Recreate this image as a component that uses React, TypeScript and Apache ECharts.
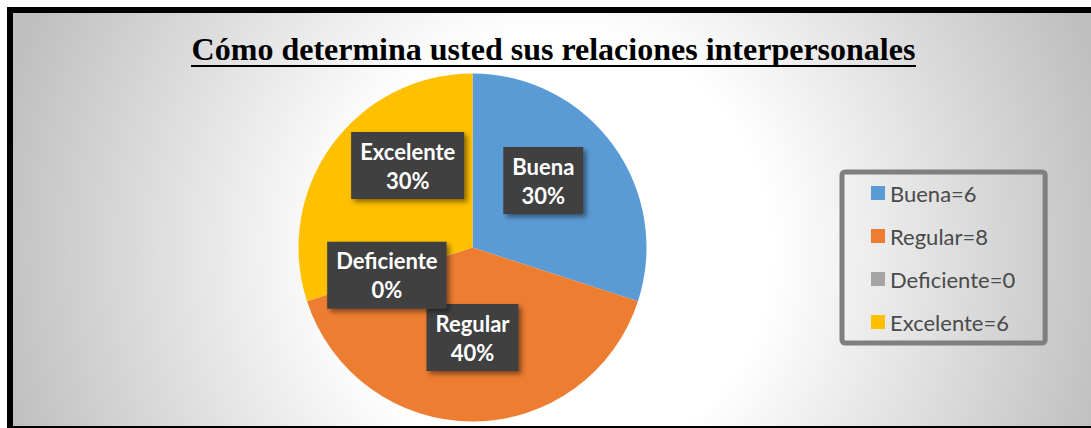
import React, { useEffect, useRef } from "react";
import * as echarts from "echarts";

const titleText = "Cómo determina usted sus relaciones interpersonales";
const categories = ["Buena", "Regular", "Deficiente", "Excelente"];
const counts = [6, 8, 0, 6];
const sliceColors = ["#5b9bd5", "#ed7d31", "#a5a5a5", "#ffc000"];
// label nudges (px) relative to ECharts' default inside position
const labelOffsets = [[-2, -14], [0, 0], [0, 0], [8, -29]];

export default function App() {
  const ref = useRef<HTMLDivElement>(null);
  useEffect(() => {
    if (!ref.current) return;
    const chart = echarts.init(ref.current, null, { renderer: "svg" });
    const total = counts.reduce((a, b) => a + b, 0);
    chart.setOption({
      animation: false,
      graphic: [
        {
          type: "rect",
          z: -10,
          silent: true,
          shape: { x: 10, y: 10, width: 1110, height: 419 },
          style: {
            fill: {
              type: "radial",
              global: true,
              x: 555,
              y: 250,
              r: 570,
              colorStops: [
                { offset: 0, color: "#ffffff" },
                { offset: 0.38, color: "#ffffff" },
                { offset: 1, color: "#bfbfbf" },
              ],
            },
            stroke: "#000",
            lineWidth: 6,
          },
        },
        {
          type: "text",
          x: 553.5,
          y: 49,
          silent: true,
          style: {
            text: titleText,
            fill: "#000",
            font: "bold 32px 'Liberation Serif', 'Times New Roman', serif",
            textAlign: "center",
            textVerticalAlign: "middle",
          },
        },
        {
          type: "line",
          silent: true,
          shape: { x1: 191, y1: 66, x2: 916, y2: 66 },
          style: { stroke: "#000", lineWidth: 2 },
        },
      ],
      legend: {
        orient: "vertical",
        left: 842,
        top: 172,
        padding: [10, 30, 10, 29],
        itemGap: 21,
        itemWidth: 14,
        itemHeight: 14,
        icon: "rect",
        borderColor: "#7f7f7f",
        borderWidth: 5,
        borderRadius: 3,
        data: categories,
        formatter: (name: string) => `${name}=${counts[categories.indexOf(name)]}`,
        textStyle: {
          fontFamily: "Lato",
          fontSize: 22,
          lineHeight: 22,
          color: "#4a4a4a",
        },
        selectedMode: false,
      },
      series: [
        {
          type: "pie",
          center: [472.5, 247.5],
          radius: 174,
          startAngle: 90,
          clockwise: true,
          minShowLabelAngle: -1,
          avoidLabelOverlap: false,
          labelLayout: { hideOverlap: false },
          silent: true,
          emphasis: { disabled: true },
          itemStyle: { borderWidth: 0 },
          label: {
            show: true,
            position: "inside",
            rotate: 0,
            color: "#ffffff",
            fontFamily: "Lato",
            fontWeight: "bold",
            fontSize: 22,
            lineHeight: 29,
            align: "center",
            backgroundColor: "#404040",
            padding: [5, 9, 4, 9],
            shadowColor: "rgba(0,0,0,0.45)",
            shadowBlur: 5,
            shadowOffsetX: 3,
            shadowOffsetY: 3,
            formatter: (p: any) =>
              `${p.name}\n${Math.round((p.value / total) * 100)}%`,
          },
          labelLine: { show: false },
          data: categories.map((name, i) => ({
            name,
            value: counts[i],
            itemStyle: { color: sliceColors[i] },
            label: { offset: labelOffsets[i] },
          })),
        },
      ],
    });
    return () => chart.dispose();
  }, []);
  return (
    <div
      ref={ref}
      style={{ position: "absolute", left: 0, top: 0, width: 1091, height: 428 }}
    />
  );
}
